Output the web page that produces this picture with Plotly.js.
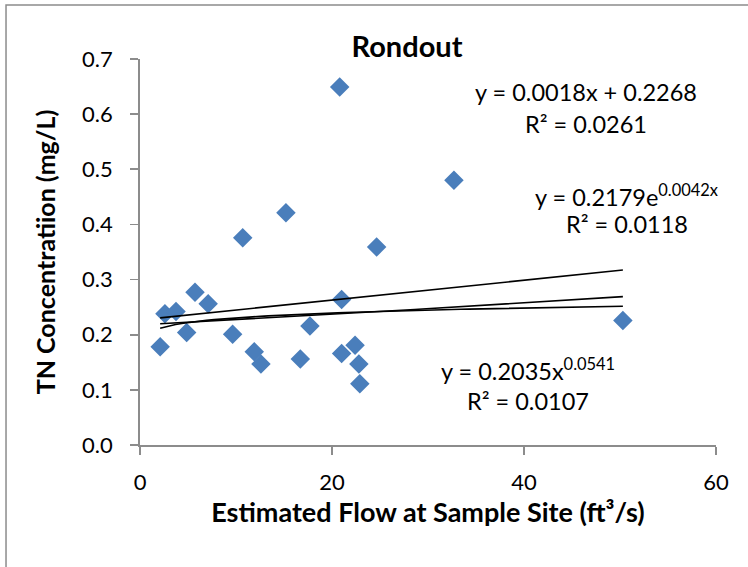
<!DOCTYPE html>
<html>
<head>
<meta charset="utf-8">
<script src="https://cdn.plot.ly/plotly-3.0.1.min.js"></script>
<style>html,body{margin:0;padding:0;background:#fff;}#chart{width:748px;height:567px;}</style>
</head>
<body>
<div id="chart"></div>
<script>
const flow = [2.1, 2.6, 3.75, 4.86, 5.73, 7.1, 9.65, 10.7, 11.9, 12.6, 15.2, 16.7, 17.7, 20.8, 21.0, 21.0, 22.4, 22.8, 22.9, 24.65, 32.7, 50.3];
const tn   = [0.178, 0.238, 0.242, 0.204, 0.277, 0.256, 0.201, 0.376, 0.169, 0.147, 0.421, 0.156, 0.216, 0.649, 0.264, 0.166, 0.181, 0.147, 0.111, 0.359, 0.480, 0.226];

// Trendline coefficients as printed on the chart
const linCoef = [0.0018, 0.2268];   // y = a*x + b
const expCoef = [0.2179, 0.0042];   // y = a*e^(b x)
const powCoef = [0.2035, 0.0541];   // y = a*x^b

const eqLabels = [
  'y = 0.0018x + 0.2268', 'R² = 0.0261',
  'y = 0.2179e<sup>0.0042x</sup>', 'R² = 0.0118',
  'y = 0.2035x<sup>0.0541</sup>', 'R² = 0.0107'
];

const FONT = 'Lato, "Open Sans", sans-serif';

const xmin = Math.min(...flow), xmax = Math.max(...flow);
const tx = [];
for (let i = 0; i <= 60; i++) tx.push(xmin + (xmax - xmin) * i / 60);
const linY = tx.map(x => linCoef[0] * x + linCoef[1]);
const expY = tx.map(x => expCoef[0] * Math.exp(expCoef[1] * x));
const powY = tx.map(x => powCoef[0] * Math.pow(x, powCoef[1]));

const lineStyle = {color: '#000', width: 1.6};
const traces = [
  {x: flow, y: tn, mode: 'markers', type: 'scatter',
   marker: {symbol: 'diamond', size: 15, color: '#4a7ebb', line: {width: 0}}},
  {x: tx, y: linY, mode: 'lines', type: 'scatter', line: lineStyle},
  {x: tx, y: expY, mode: 'lines', type: 'scatter', line: lineStyle},
  {x: tx, y: powY, mode: 'lines', type: 'scatter', line: lineStyle}
];

const annFont = {family: FONT, size: 23.5, color: '#000'};
function ann(x, y, text) {
  return {x: x, y: y, xref: 'x', yref: 'y', text: text, showarrow: false,
          xanchor: 'center', yanchor: 'middle', font: annFont};
}

const layout = {
  width: 748, height: 567,
  margin: {l: 140, r: 32, t: 59, b: 122},
  paper_bgcolor: '#fff', plot_bgcolor: '#fff',
  showlegend: false,
  font: {family: FONT, color: '#000'},
  title: {text: '<b>Rondout</b>', x: 0.4635, xref: 'paper', xanchor: 'center',
          y: 1 - 47 / 567, yref: 'container', yanchor: 'middle',
          font: {family: FONT, size: 29, color: '#000'}},
  xaxis: {
    range: [0, 60], dtick: 20, tick0: 0, showgrid: false, zeroline: false,
    showline: true, linecolor: '#8c8c8c', linewidth: 1.8,
    ticks: 'outside', ticklen: 8, tickcolor: '#8c8c8c', tickwidth: 1.8,
    ticklabelstandoff: 9,
    tickfont: {family: FONT, size: 22, color: '#000'},
    title: {text: '<b>Estimated Flow at Sample Site (ft³/s)</b>', standoff: 9,
            font: {family: FONT, size: 27, color: '#000'}}
  },
  yaxis: {
    range: [0, 0.7], dtick: 0.1, tick0: 0, tickformat: '.1f', showgrid: false, zeroline: false,
    showline: true, linecolor: '#8c8c8c', linewidth: 1.8,
    ticks: 'outside', ticklen: 8, tickcolor: '#8c8c8c', tickwidth: 1.8,
    ticklabelstandoff: 13,
    tickfont: {family: FONT, size: 22, color: '#000'},
    title: {text: '<b>TN Concentratiion (mg/L)</b>', standoff: 19,
            font: {family: FONT, size: 25, color: '#000'}}
  },
  annotations: [
    ann(46.46, 0.640, eqLabels[0]), ann(46.46, 0.582, eqLabels[1]),
    ann(50.7, 0.452, eqLabels[2]), ann(50.7, 0.401, eqLabels[3]),
    ann(40.4, 0.137, eqLabels[4]), ann(40.4, 0.0798, eqLabels[5])
  ],
  shapes: [
    {type: 'rect', xref: 'paper', yref: 'paper', x0: -0.2326, x1: 2, y0: -2, y1: 1.1399,
     line: {color: '#8c8c8c', width: 1.5}, fillcolor: 'rgba(0,0,0,0)', layer: 'below'}
  ]
};

Plotly.newPlot('chart', traces, layout, {displayModeBar: false, staticPlot: true});
</script>
</body>
</html>
